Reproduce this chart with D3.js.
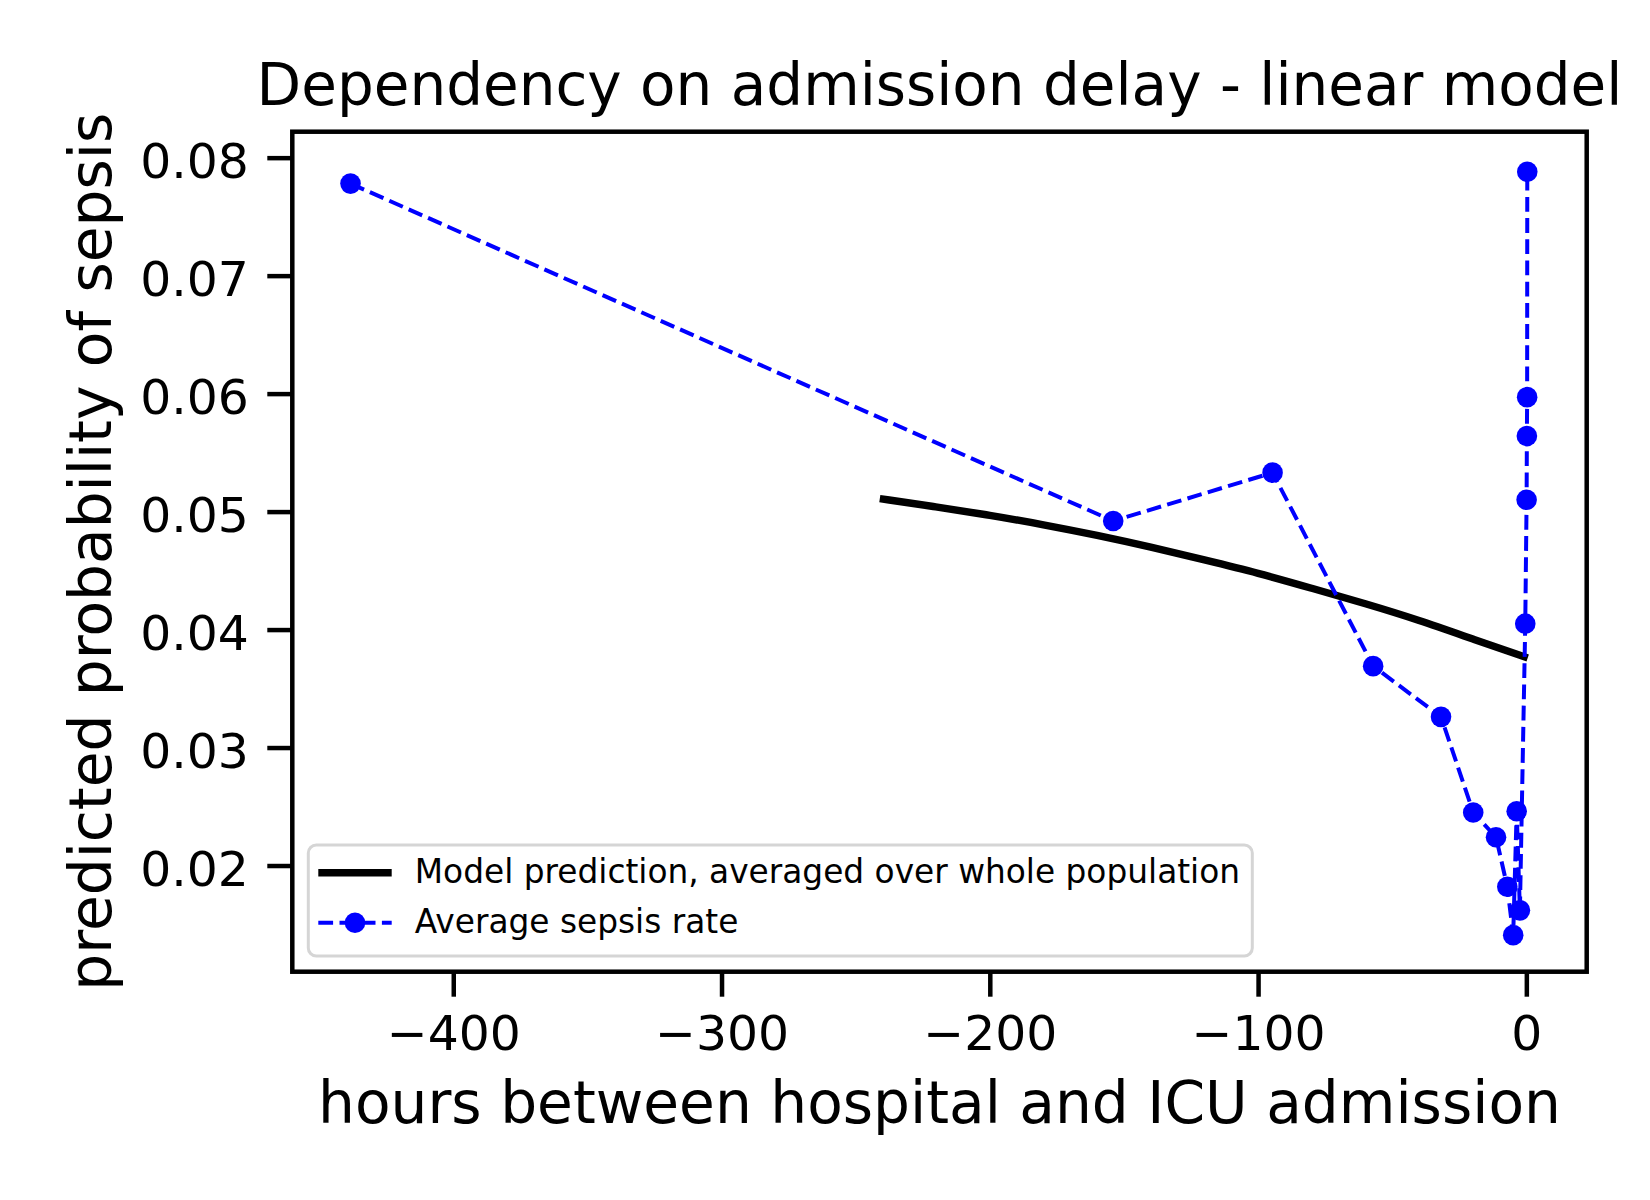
<!DOCTYPE html>
<html>
<head>
<meta charset="utf-8">
<script src="https://cdn.jsdelivr.net/npm/d3@7"></script>
<style>
  body { margin: 0; background: #fff; }
  text { font-family: "DejaVu Sans", sans-serif; fill: #000; }
</style>
</head>
<body>
<svg id="chart"></svg>
<script>
var width = 1650;
var height = 1200;
var margin = { top: 131.7, right: 63.3, bottom: 228.3, left: 292.3 };
var innerW = width - margin.left - margin.right;
var innerH = height - margin.top - margin.bottom;

// model prediction (black curve)
var modelHours = [-241, -220, -200, -180, -160, -140, -120, -100, -80, -60, -40, -20, 0.5];
var modelProb = [0.0511, 0.0504, 0.0497, 0.0489, 0.0480, 0.0470, 0.0459, 0.0448, 0.0435, 0.0422, 0.0408, 0.0392, 0.0376];

// average sepsis rate per delay bin (blue dashed)
var rateHours = [-438.3, -154.0, -94.6, -57.1, -31.8, -19.8, -11.3, -7.1, -4.9, -3.6, -2.4, -0.4, 0.1, 0.2, 0.3, 0.35];
var rateValues = [0.0778, 0.0492, 0.0533, 0.0369, 0.0326, 0.0245, 0.0224, 0.0182, 0.0141, 0.0246, 0.0162, 0.0405, 0.0510, 0.0564, 0.0597, 0.0788];

var xTicks = [-400, -300, -200, -100, 0];
var yTicks = [0.02, 0.03, 0.04, 0.05, 0.06, 0.07, 0.08];

var legendLabels = ["Model prediction, averaged over whole population", "Average sepsis rate"];

var modelData = modelHours.map(function(h, i) { return [h, modelProb[i]]; });
var rateData = rateHours.map(function(h, i) { return [h, rateValues[i]]; });

var svg = d3.select('#chart')
  .attr('width', width)
  .attr('height', height);

var g = svg.append('g')
  .attr('transform', 'translate(' + margin.left + ',' + margin.top + ')');

var x = d3.scaleLinear().domain([-460, 22.5]).range([0, innerW]);
var y = d3.scaleLinear().domain([0.0110, 0.0822]).range([innerH, 0]);

// x axis
var xAxis = g.append('g')
  .attr('transform', 'translate(0,' + innerH + ')')
  .call(d3.axisBottom(x).tickValues(xTicks).tickSize(25).tickPadding(19).tickFormat(d3.format('d')));

// y axis
var yAxis = g.append('g')
  .call(d3.axisLeft(y).tickValues(yTicks).tickSize(25).tickPadding(18.5).tickFormat(d3.format('.2f')));

[xAxis, yAxis].forEach(function(ax) {
  ax.select('.domain').remove();
  ax.attr('font-family', null).attr('font-size', null);
  ax.selectAll('line').attr('stroke', '#000').attr('stroke-width', 4.5);
  ax.selectAll('text').attr('font-size', 48.8).attr('fill', '#000');
});
yAxis.selectAll('text').attr('dy', '0.4em');

// model curve
g.append('path')
  .datum(modelData)
  .attr('fill', 'none')
  .attr('stroke', '#000')
  .attr('stroke-width', 7.4)
  .attr('d', d3.line()
    .curve(d3.curveBasis)
    .x(function(d) { return x(d[0]); })
    .y(function(d) { return y(d[1]); }));

// observed rate
g.append('path')
  .datum(rateData)
  .attr('fill', 'none')
  .attr('stroke', '#0000ff')
  .attr('stroke-width', 4)
  .attr('stroke-dasharray', '14.8,6.4')
  .attr('d', d3.line()
    .x(function(d) { return x(d[0]); })
    .y(function(d) { return y(d[1]); }));

g.selectAll('.dot')
  .data(rateData)
  .enter()
  .append('circle')
  .attr('class', 'dot')
  .attr('cx', function(d) { return x(d[0]); })
  .attr('cy', function(d) { return y(d[1]); })
  .attr('r', 10.3)
  .attr('fill', '#0000ff');

// frame
g.append('rect')
  .attr('width', innerW)
  .attr('height', innerH)
  .attr('fill', 'none')
  .attr('stroke', '#000')
  .attr('stroke-width', 4.5);

// legend
var legend = g.append('g').attr('transform', 'translate(16,713.3)');
legend.append('rect')
  .attr('width', 944)
  .attr('height', 111)
  .attr('rx', 8)
  .attr('fill', '#fff')
  .attr('fill-opacity', 0.8)
  .attr('stroke', '#d5d5d5')
  .attr('stroke-width', 3);

legend.append('line')
  .attr('x1', 10).attr('x2', 83.4)
  .attr('y1', 27.7).attr('y2', 27.7)
  .attr('stroke', '#000')
  .attr('stroke-width', 7.4);

legend.append('line')
  .attr('x1', 10).attr('x2', 83.4)
  .attr('y1', 77.7).attr('y2', 77.7)
  .attr('stroke', '#0000ff')
  .attr('stroke-width', 4)
  .attr('stroke-dasharray', '14.8,6.4');

legend.append('circle')
  .attr('cx', 46.7).attr('cy', 77.7)
  .attr('r', 10.3)
  .attr('fill', '#0000ff');

legend.selectAll('.legend-text')
  .data(legendLabels)
  .enter()
  .append('text')
  .attr('class', 'legend-text')
  .attr('x', 106.5)
  .attr('y', function(d, i) { return 38.3 + i * 50; })
  .attr('font-size', 32.8)
  .text(function(d) { return d; });

// title and axis labels
svg.append('text')
  .attr('x', margin.left + innerW / 2)
  .attr('y', 105)
  .attr('text-anchor', 'middle')
  .attr('font-size', 58)
  .text('Dependency on admission delay - linear model');

svg.append('text')
  .attr('x', margin.left + innerW / 2)
  .attr('y', 1123)
  .attr('text-anchor', 'middle')
  .attr('font-size', 58.2)
  .text('hours between hospital and ICU admission');

svg.append('text')
  .attr('transform', 'translate(111,' + (margin.top + innerH / 2) + ') rotate(-90)')
  .attr('text-anchor', 'middle')
  .attr('font-size', 58.2)
  .text('predicted probability of sepsis');
</script>
</body>
</html>
